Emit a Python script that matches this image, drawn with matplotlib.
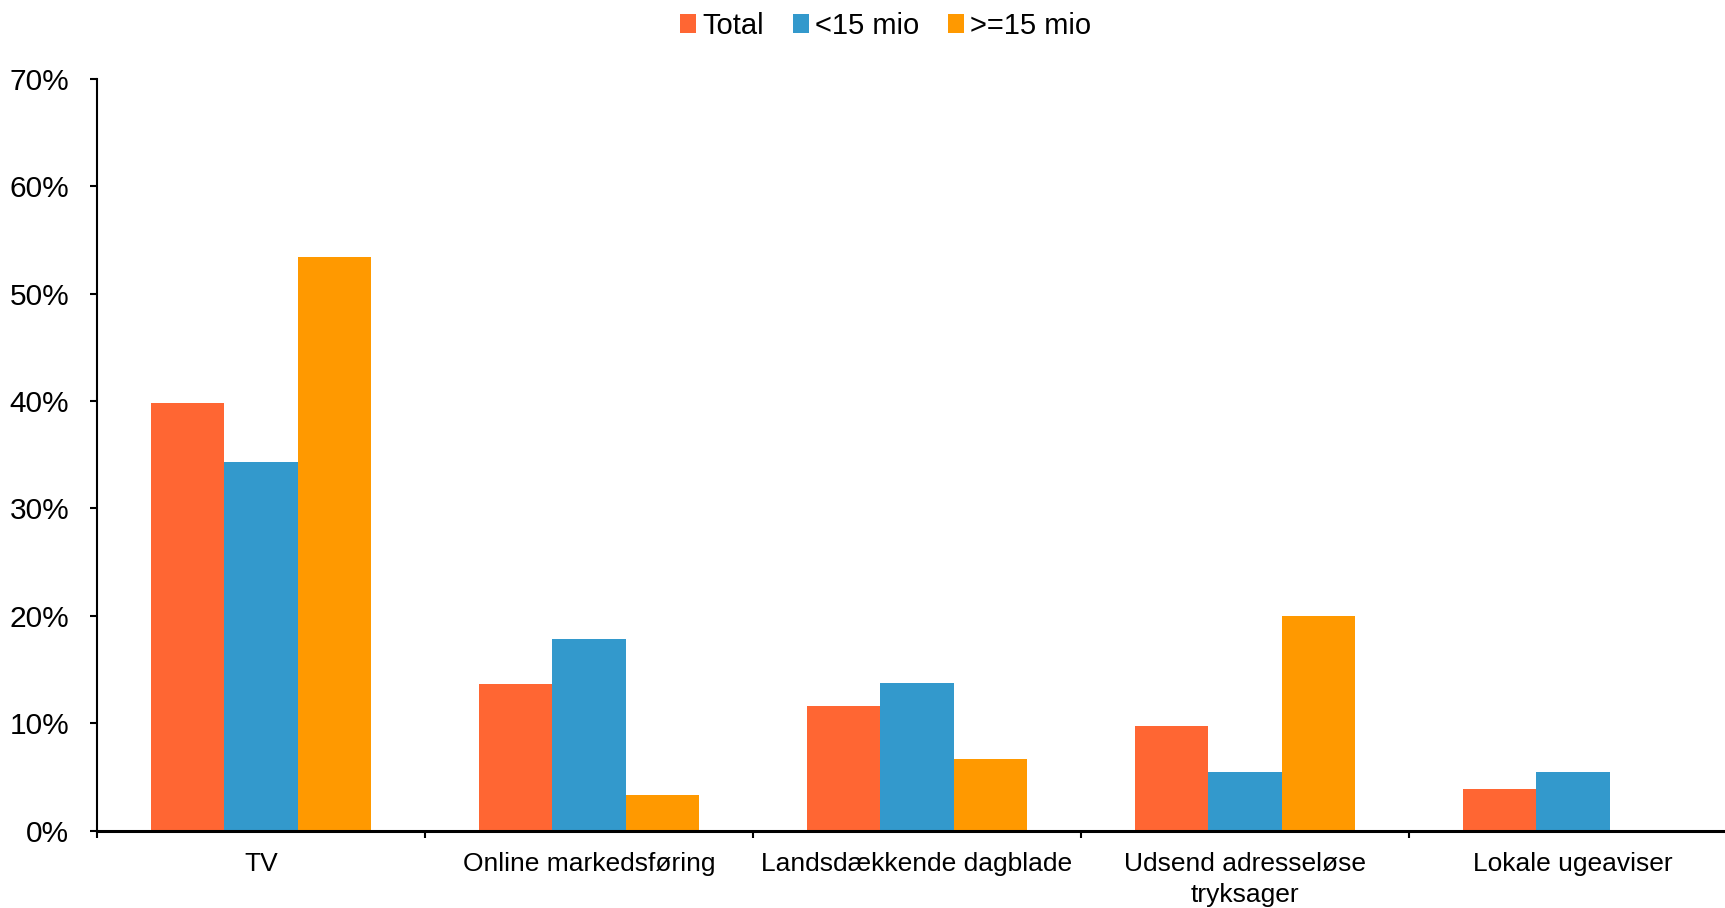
import matplotlib
matplotlib.use("Agg")
import matplotlib.pyplot as plt
import numpy as np
from matplotlib.ticker import FuncFormatter, FixedLocator, NullFormatter

plt.rcParams['font.family'] = ['Liberation Sans', 'DejaVu Sans']

categories = ["TV", "Online markedsføring", "Landsdækkende dagblade",
              "Udsend adresseløse\ntryksager", "Lokale ugeaviser"]
series_names = ["Total", "<15 mio", ">=15 mio"]
total = [39.85, 13.65, 11.6, 9.7, 3.85]
under15 = [34.3, 17.85, 13.75, 5.5, 5.5]
over15 = [53.4, 3.3, 6.65, 20.0, 0.0]
colors = ["#FF6633", "#3399CC", "#FF9900"]

fig = plt.figure(figsize=(17.25, 9.08), dpi=100)
ax = fig.add_axes([97/1725, 1 - 830.7/908, 1640/1725, (830.7-78.7)/908])

x = np.arange(len(categories))
w = 0.2227
for i, (vals, name, c) in enumerate(zip([total, under15, over15], series_names, colors)):
    ax.bar(x + (i - 1) * w, vals, width=w, color=c, label=name, linewidth=0)

ax.set_xlim(-0.5, len(categories) - 0.5)
ax.set_ylim(0, 70)
ax.set_yticks(np.arange(0, 71, 10))
ax.yaxis.set_major_formatter(FuncFormatter(lambda v, p: f"{int(v)}%"))
ax.tick_params(axis='y', labelsize=21.5, direction='out', length=5, width=1.5, pad=15)

ax.set_xticks(x)
ax.set_xticklabels(categories, fontsize=19, linespacing=1.4)
ax.tick_params(axis='x', which='major', length=0, pad=15)
ax.xaxis.set_minor_locator(FixedLocator(np.arange(-0.5, len(categories), 1.0)))
ax.xaxis.set_minor_formatter(NullFormatter())
ax.tick_params(axis='x', which='minor', direction='out', length=5, width=1.5)

for s in ['top', 'right']:
    ax.spines[s].set_visible(False)
ax.spines['left'].set_linewidth(1.5)
ax.spines['bottom'].set_linewidth(2.2)

leg = fig.legend(loc='upper center', bbox_to_anchor=(0.5135, 1.016), ncol=3, frameon=False,
                 fontsize=21, handlelength=0.55, handleheight=0.6, handletextpad=0.2,
                 columnspacing=1.0)

fig.savefig("out.png", dpi=100)
